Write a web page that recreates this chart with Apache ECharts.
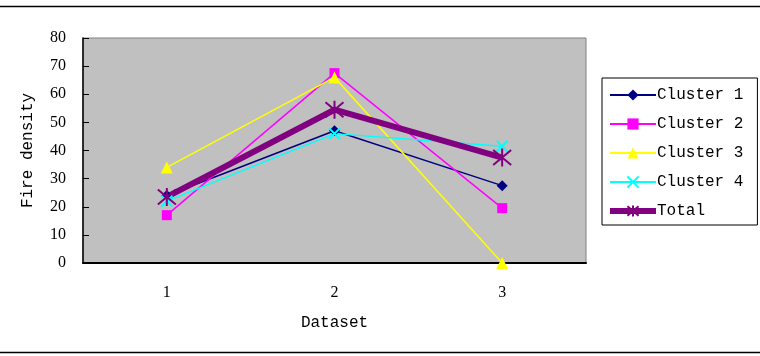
<!DOCTYPE html>
<html>
<head>
<meta charset="utf-8">
<script src="https://cdn.jsdelivr.net/npm/echarts@6/dist/echarts.min.js"></script>
<style>
  html, body { margin: 0; padding: 0; background: #fff; }
  #chart { width: 760px; height: 356px; }
</style>
</head>
<body>
<div id="chart"></div>
<script>
// fire density per dataset
var datasets = ['1', '2', '3'];
var yTicks = [0, 10, 20, 30, 40, 50, 60, 70, 80];

var cluster1 = [24, 47, 27.5];
var cluster2 = [17, 67.5, 19.5];
var cluster3 = [34, 66, 0];
var cluster4 = [22, 46, 41.5];
var total = [23.5, 54.5, 37.5];

var font = 'Liberation Mono';
var numFont = 'Liberation Serif';
var crossPath = 'path://M0,0L10,10M10,0L0,10';
var starPath = 'path://M0,0L10,10M10,0L0,10M5,-1L5,11';

var chart = echarts.init(document.getElementById('chart'));

function lineSeries(name, data, color, symbol, size, width, stroke) {
	var s = {
		name: name,
		type: 'line',
		data: data,
		symbol: symbol,
		symbolSize: size,
		showAllSymbol: true,
		lineStyle: { color: color, width: width },
		itemStyle: { color: color },
		emphasis: { disabled: true },
		z: 3
	};
	if (stroke) {
		s.itemStyle.borderColor = color;
		s.itemStyle.borderWidth = stroke;
	}
	return s;
}

var option = {
	animation: false,
	textStyle: { fontFamily: font },
	graphic: [
		{ type: 'line', shape: { x1: 0, y1: 6.5, x2: 760, y2: 6.5 }, style: { stroke: '#000', lineWidth: 1.5 } },
		{ type: 'line', shape: { x1: 0, y1: 352.5, x2: 760, y2: 352.5 }, style: { stroke: '#000', lineWidth: 1.5 } }
	],
	grid: {
		left: 83, top: 38, width: 503, height: 225,
		show: true,
		backgroundColor: '#c0c0c0',
		borderColor: '#808080',
		borderWidth: 1
	},
	legend: {
		orient: 'vertical',
		left: 602, top: 78,
		padding: [9, 14, 6, 5],
		itemWidth: 46,
		itemHeight: 14,
		itemGap: 13,
		borderColor: '#000',
		borderWidth: 1,
		backgroundColor: '#fff',
		textStyle: { fontFamily: font, fontSize: 16, color: '#000', padding: [0, 0, 0, -4] },
		data: [
			'Cluster 1', 'Cluster 2', 'Cluster 3', 'Cluster 4',
			{ name: 'Total', lineStyle: { width: 6 } }
		]
	},
	xAxis: {
		type: 'category',
		data: datasets,
		boundaryGap: true,
		name: 'Dataset',
		nameLocation: 'middle',
		nameGap: 52,
		nameTextStyle: { fontFamily: font, fontSize: 16, color: '#000' },
		axisLine: { lineStyle: { color: '#000', width: 2 } },
		axisTick: { inside: true, length: 5, lineStyle: { color: '#000' } },
		axisLabel: { fontFamily: numFont, fontSize: 16, color: '#000', margin: 22 },
		splitLine: { show: false }
	},
	yAxis: {
		type: 'value',
		min: yTicks[0],
		max: yTicks[yTicks.length - 1],
		interval: 10,
		name: 'Fire density',
		nameLocation: 'middle',
		nameGap: 47,
		nameTextStyle: { fontFamily: font, fontSize: 16, color: '#000' },
		axisLine: { show: true, lineStyle: { color: '#000', width: 1.5 } },
		axisTick: { show: true, inside: true, length: 6, lineStyle: { color: '#000' } },
		axisLabel: { fontFamily: numFont, fontSize: 16, color: '#000', margin: 17 },
		splitLine: { show: false }
	},
	series: [
		lineSeries('Cluster 1', cluster1, '#000080', 'diamond', 11, 1.5),
		lineSeries('Cluster 2', cluster2, '#ff00ff', 'rect', 10, 1.5),
		lineSeries('Cluster 3', cluster3, '#ffff00', 'triangle', 12, 1.5),
		lineSeries('Cluster 4', cluster4, '#00ffff', crossPath, 11, 1.5, 2),
		lineSeries('Total', total, '#800080', starPath, 18, 6, 2)
	]
};

chart.setOption(option);
</script>
</body>
</html>
